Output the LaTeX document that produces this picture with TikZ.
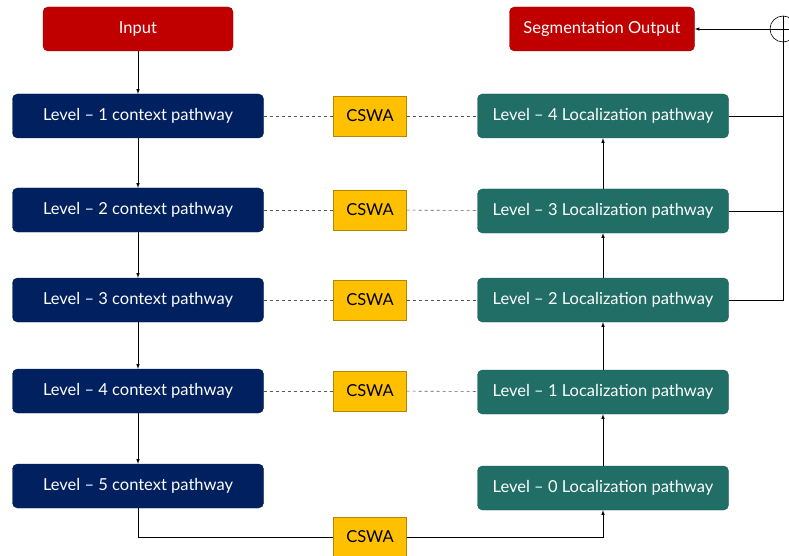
\documentclass[tikz,border=0pt]{standalone}
\usepackage{fontspec}
\setmainfont{Lato}
\usepackage{tikz}
\usetikzlibrary{arrows,positioning,calc}
\definecolor{in-red}{RGB}{192,0,0}
\definecolor{ctx-blue}{RGB}{0,32,96}
\definecolor{loc-teal}{RGB}{32,110,102}
\definecolor{att-gold}{RGB}{255,192,0}

\begin{document}
\begin{tikzpicture}[x=1pt, y=1pt,
    block/.style={rectangle, draw, rounded corners=5pt, minimum width=251pt, minimum height=44pt, inner sep=0pt, text=white, font=\fontsize{16.5}{19}\selectfont},
    ctx/.style={block, fill=ctx-blue, draw=ctx-blue!80!black},
    loc/.style={block, fill=loc-teal, draw=loc-teal!80!black},
    io/.style={block, fill=in-red, draw=in-red!75!black, minimum width=190pt},
    att/.style={rectangle, draw=att-gold!70!black, fill=att-gold, minimum width=73pt, minimum height=40pt, inner sep=0pt, font=\fontsize{16.5}{19}\selectfont},
    arrow/.style={->, >=latex, semithick},
    link/.style={dashed, semithick, gray!70!black}]

    \useasboundingbox (0,0) rectangle (789,-556);

    % Input and output
    \node[io] (in) at (138,-29) {Input};
    \node[io, minimum width=185pt] (out) at (602,-29) {Segmentation Output};
    \node[circle, draw, semithick, minimum size=26pt, inner sep=0pt] (sum) at (783,-29) {};
    \draw[semithick] (sum.west) -- (sum.east);
    \draw[semithick] (sum.north) -- (sum.south);

    % Context pathway
    \node[ctx] (c1) at (138,-116) {Level -- 1 context pathway};
    \node[ctx] (c2) at (138,-210) {Level -- 2 context pathway};
    \node[ctx] (c3) at (138,-300) {Level -- 3 context pathway};
    \node[ctx] (c4) at (138,-391) {Level -- 4 context pathway};
    \node[ctx] (c5) at (138,-486) {Level -- 5 context pathway};

    % Attention blocks
    \node[att] (a1) at (370,-116) {CSWA};
    \node[att] (a2) at (370,-210) {CSWA};
    \node[att] (a3) at (370,-300) {CSWA};
    \node[att] (a4) at (370,-391) {CSWA};
    \node[att] (a5) at (370,-537) {CSWA};

    % Localization pathway
    \node[loc] (l4) at (603,-116) {Level -- 4 Localization pathway};
    \node[loc] (l3) at (603,-211) {Level -- 3 Localization pathway};
    \node[loc] (l2) at (603,-300) {Level -- 2 Localization pathway};
    \node[loc] (l1) at (603,-392) {Level -- 1 Localization pathway};
    \node[loc] (l0) at (603,-488) {Level -- 0 Localization pathway};

    % Down the context pathway
    \draw[arrow] (in) -- (c1);
    \draw[arrow] (c1) -- (c2);
    \draw[arrow] (c2) -- (c3);
    \draw[arrow] (c3) -- (c4);
    \draw[arrow] (c4) -- (c5);

    % Skip connections
    \draw[link] (c1) -- (a1);
    \draw[link] (a1) -- (l4);
    \draw[link] (c2) -- (a2);
    \draw[link] (a2) -- (l3);
    \draw[link] (c3) -- (a3);
    \draw[link] (a3) -- (l2);
    \draw[link] (c4) -- (a4);
    \draw[link] (a4) -- (l1);

    % Bottleneck
    \draw[semithick] (c5.south) |- (a5.west);
    \draw[arrow] (a5.east) -| (l0.south);

    % Up the localization pathway
    \draw[arrow] (l0) -- (l1);
    \draw[arrow] (l1) -- (l2);
    \draw[arrow] (l2) -- (l3);
    \draw[arrow] (l3) -- (l4);

    % Deep supervision
    \draw[semithick] (l2.east) -| (sum.south);
    \draw[semithick] (l3.east) -- (l3.east -| sum);
    \draw[semithick] (l4.east) -- (l4.east -| sum);
    \draw[arrow] (sum.west) -- (out.east);
\end{tikzpicture}
\end{document}
